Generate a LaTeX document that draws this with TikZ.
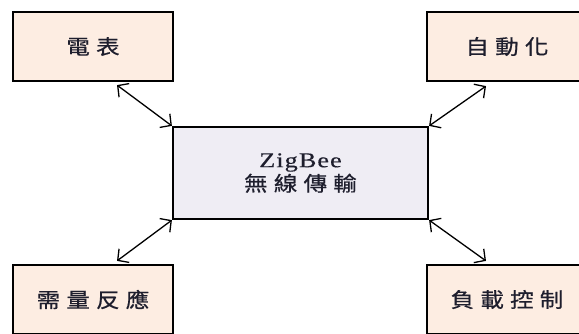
\documentclass[tikz,border=0pt]{standalone}
\usepackage{fontspec}
\setmainfont{Liberation Serif}
\newfontfamily\cjk[FakeStretch=1.15,LetterSpace=30,FakeBold=0.6]{Noto Sans CJK TC}
\newfontfamily\zb[FakeStretch=1.25,LetterSpace=5,FakeBold=0.4]{Liberation Serif}
\usetikzlibrary{arrows.meta}
\definecolor{peach}{RGB}{253,237,226}
\definecolor{lav}{RGB}{239,237,244}
\definecolor{ink}{RGB}{30,30,45}
\begin{document}
\begin{tikzpicture}[x=1pt,y=-1pt,
  box/.style={draw=black,line width=2.2pt,fill=peach,minimum width=160pt,minimum height=69pt,inner sep=0pt,text=ink,font=\cjk\fontsize{20.5}{22}\selectfont},
  hub/.style={draw=black,line width=2.2pt,fill=lav,minimum width=255pt,minimum height=92pt,inner sep=0pt,align=center,text=ink},
  arr/.style={line width=1.3pt,{Straight Barb[length=8pt,width=17pt]}-{Straight Barb[length=8pt,width=17pt]}}]
\useasboundingbox (0,0) rectangle (579,333);
\clip (0,0) rectangle (579,333);
\node[box] (tl) at (93,46.5) {電表};
\node[box] (tr) at (507,46.5) {自動化};
\node[box] (bl) at (93,299.5) {需量反應};
\node[box] (br) at (507,299.5) {負載控制};
\node[hub] (c) at (300.5,173) {{\zb\fontsize{21}{26}\selectfont ZigBee}\\[1pt]{\cjk\fontsize{20.5}{22}\selectfont 無線傳輸}};
\draw[arr] (c.north west) -- ([xshift=24pt,yshift=-3pt]tl.south);
\draw[arr] (c.north east) -- ([xshift=-21pt,yshift=-4pt]tr.south);
\draw[arr] (c.south west) -- ([xshift=24pt,yshift=3pt]bl.north);
\draw[arr] (c.south east) -- ([xshift=-21pt,yshift=3pt]br.north);
\end{tikzpicture}
\end{document}
